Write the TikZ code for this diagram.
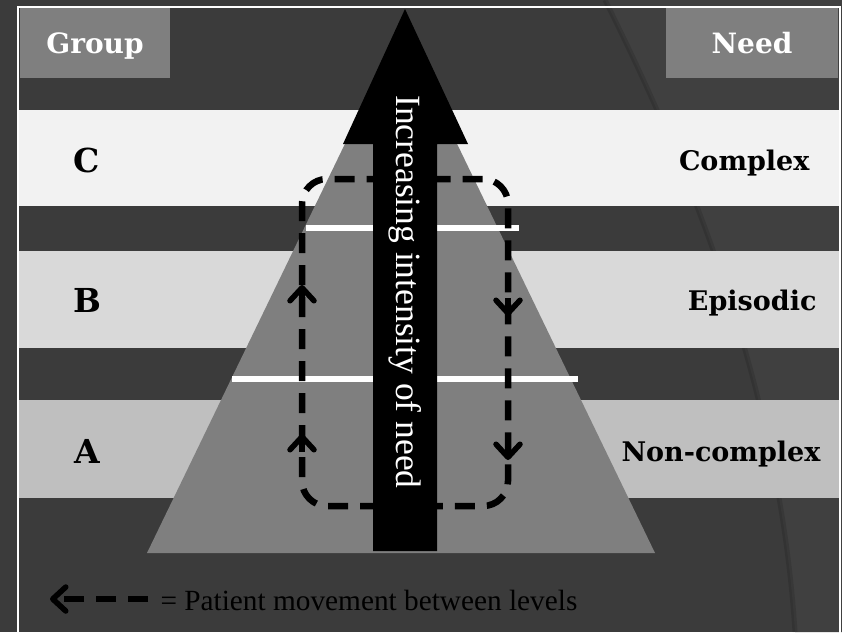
\documentclass[tikz,border=0pt]{standalone}
\usepackage{fontspec}
\setmainfont{Liberation Serif}
\newfontfamily\headfont{DejaVu Serif}
\usepackage{xcolor}
\usepackage{tikz}
\usetikzlibrary{
	arrows.meta
}
\definecolor{bgdark}{RGB}{59,59,59}
\definecolor{bglight}{RGB}{64,64,64}
\definecolor{boxgray}{RGB}{127,127,127}
\definecolor{bandC}{RGB}{242,242,242}
\definecolor{bandB}{RGB}{217,217,217}
\definecolor{bandA}{RGB}{191,191,191}
\tikzset{
	headbox/.style={fill=boxgray, minimum height=70pt, text height=20pt, text depth=0pt,
		text=white, font=\headfont\bfseries\fontsize{28}{28}\selectfont},
	grouplabel/.style={anchor=base, font=\headfont\bfseries\fontsize{33}{33}\selectfont},
	needlabel/.style={anchor=base east, font=\headfont\bfseries\fontsize{27}{27}\selectfont},
	moveline/.style={line width=6.5pt, dash pattern=on 20pt off 12pt, black},
	movetip/.tip={Straight Barb[length=13pt,width=24pt,line width=0pt 0.85,round]},
	tipline/.style={line width=6.5pt, black, -{movetip}},
}

\begin{document}
\begin{tikzpicture}[x=1pt,y=-1pt]
			\useasboundingbox (0,0) rectangle (842,632);
			\fill[bgdark] (0,0) rectangle (842,632);
			\fill[bglight] (605,0) .. controls (700,190) and (780,400) .. (795,632) -- (842,632) -- (842,0) -- cycle;
			\draw[black, line width=5pt, opacity=.12] (605,0) .. controls (700,190) and (780,400) .. (795,632);
			\draw[white, line width=2pt] (18,7) rectangle (840,660);
			%
			\node[headbox, minimum width=150pt] (group) at (95,43) {Group};
			\node[headbox, minimum width=172pt] (need) at (752,43) {Need};
			%
			\fill[bandC] (19,110) rectangle (839,206);
			\fill[bandB] (19,251) rectangle (839,348);
			\fill[bandA] (19,400) rectangle (839,498);
			%
			\fill[boxgray] (147,553) -- (401,28) -- (655,553) -- cycle;
			\draw[white, line width=6pt] (306,228) -- (519,228);
			\draw[white, line width=6pt] (232,379) -- (578,379);
			%
			\draw[moveline, rounded corners=25pt] (405,506) -| (302,179) -| (508,506) -- cycle;
			\coordinate (upB) at (302,285);
			\coordinate (upA) at (302,434);
			\coordinate (downB) at (508,316);
			\coordinate (downA) at (508,460);
			\draw[tipline] ([yshift=-18pt]upB) -- (upB);
			\draw[tipline] ([yshift=-18pt]upA) -- (upA);
			\draw[tipline] ([yshift=18pt]downB) -- (downB);
			\draw[tipline] ([yshift=18pt]downA) -- (downA);
			%
			\fill[black] (373,551) -- (373,144) -- (343,144) -- (405,9) -- (468,144) -- (437,144) -- (437,551) -- cycle;
			\node[rotate=-90, text=white, font=\fontsize{35.5}{36}\selectfont] (intensity) at (405,292) {Increasing intensity of need};
			%
			\node[grouplabel] (lvlC) at (87,172) {C};
			\node[grouplabel] (lvlB) at (87,312) {B};
			\node[grouplabel] (lvlA) at (87,463) {A};
			\node[needlabel] (needC) at (813,170) {Complex};
			\node[needlabel] (needB) at (820,310) {Episodic};
			\node[needlabel] (needA) at (824,461) {Non-complex};
			%
			\coordinate (legS) at (148,599);
			\coordinate (legE) at (50,599);
			\draw[moveline, -{movetip}] (legS) -- (legE);
			\node[anchor=base west, font=\fontsize{29.3}{30}\selectfont] (legtext) at (157,610) {= Patient movement between levels};
		\end{tikzpicture}
\end{document}
